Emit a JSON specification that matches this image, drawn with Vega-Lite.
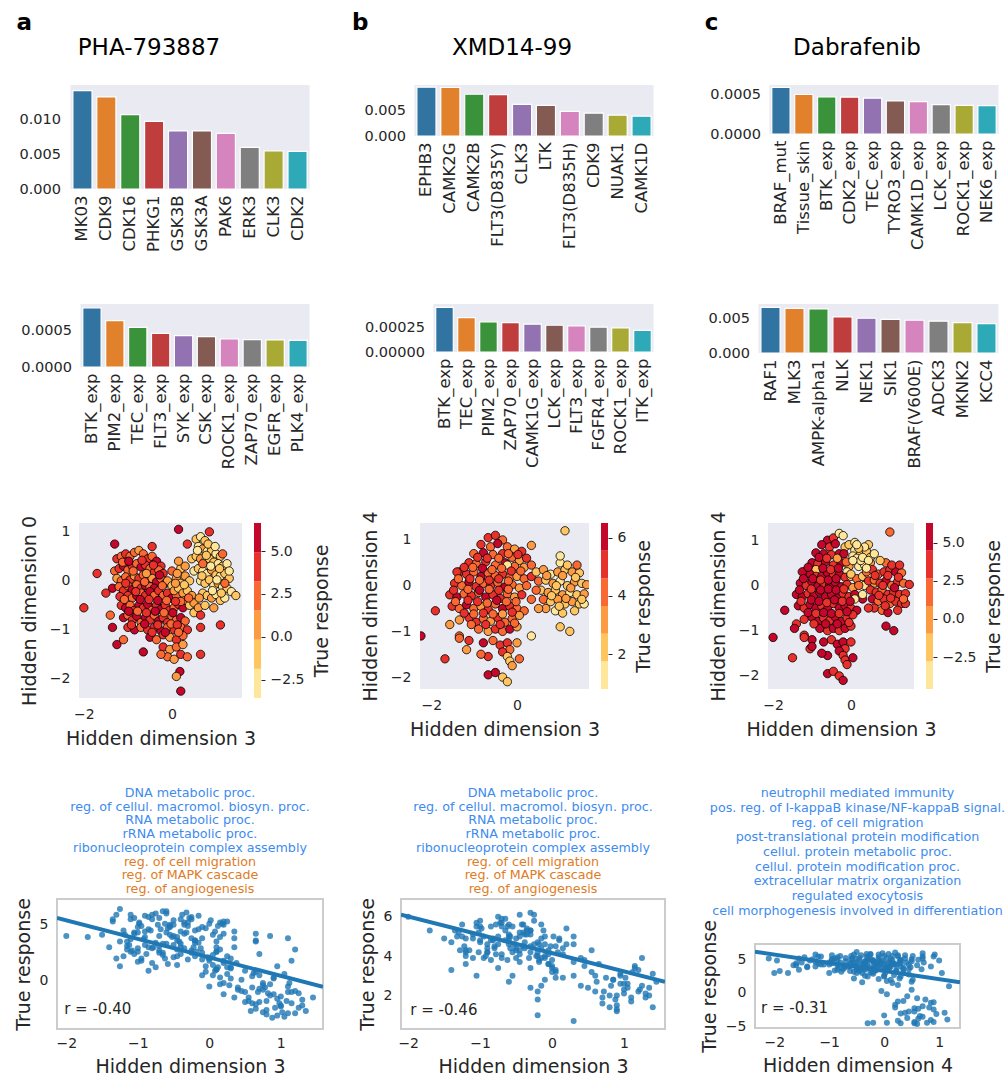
{
"$schema":"https://vega.github.io/schema/vega-lite/v6.json",
"padding":{"left":12,"top":12,"right":2,"bottom":0},
"config":{"font":"DejaVu Sans","view":{"stroke":null},
"axis":{"labelFont":"DejaVu Sans","titleFont":"DejaVu Sans","labelColor":"#262626","titleColor":"#262626","titleFontWeight":"normal","grid":false,"ticks":false,"domain":false,"labelPadding":9,"labelFontSize":14,"titleFontSize":19},
"title":{"font":"DejaVu Sans","color":"black","fontWeight":"normal"}},
"datasets":{
"sp":[{"s":0}],
"b1a":[{"k":"MK03","v":0.01419},{"k":"CDK9","v":0.01328},{"k":"CDK16","v":0.01073},{"k":"PHKG1","v":0.00976},{"k":"GSK3B","v":0.00837},{"k":"GSK3A","v":0.00837},{"k":"PAK6","v":0.00803},{"k":"ERK3","v":0.00601},{"k":"CLK3","v":0.00548},{"k":"CDK2","v":0.00543}],
"b1b":[{"k":"EPHB3","v":0.00967},{"k":"CAMK2G","v":0.0096},{"k":"CAMK2B","v":0.00827},{"k":"FLT3(D835Y)","v":0.0082},{"k":"CLK3","v":0.00627},{"k":"LTK","v":0.00607},{"k":"FLT3(D835H)","v":0.00487},{"k":"CDK9","v":0.00453},{"k":"NUAK1","v":0.00413},{"k":"CAMK1D","v":0.00393}],
"b1c":[{"k":"BRAF_mut","v":0.000595},{"k":"Tissue_skin","v":0.000504},{"k":"BTK_exp","v":0.000474},{"k":"CDK2_exp","v":0.00047},{"k":"TEC_exp","v":0.000457},{"k":"TYRO3_exp","v":0.000422},{"k":"CAMK1D_exp","v":0.000414},{"k":"LCK_exp","v":0.000375},{"k":"ROCK1_exp","v":0.000366},{"k":"NEK6_exp","v":0.000362}],
"b2a":[{"k":"BTK_exp","v":0.000812},{"k":"PIM2_exp","v":0.000638},{"k":"TEC_exp","v":0.000546},{"k":"FLT3_exp","v":0.000463},{"k":"SYK_exp","v":0.000431},{"k":"CSK_exp","v":0.000417},{"k":"ROCK1_exp","v":0.000385},{"k":"ZAP70_exp","v":0.000376},{"k":"EGFR_exp","v":0.000372},{"k":"PLK4_exp","v":0.000367}],
"b2b":[{"k":"BTK_exp","v":0.000462},{"k":"TEC_exp","v":0.000356},{"k":"PIM2_exp","v":0.000312},{"k":"ZAP70_exp","v":0.000305},{"k":"CAMK1G_exp","v":0.000288},{"k":"LCK_exp","v":0.000277},{"k":"FLT3_exp","v":0.000271},{"k":"FGFR4_exp","v":0.000257},{"k":"ROCK1_exp","v":0.00025},{"k":"ITK_exp","v":0.000223}],
"b2c":[{"k":"RAF1","v":0.00663},{"k":"MLK3","v":0.00649},{"k":"AMPK-alpha1","v":0.0064},{"k":"NLK","v":0.00524},{"k":"NEK1","v":0.00505},{"k":"SIK1","v":0.0049},{"k":"BRAF(V600E)","v":0.00476},{"k":"ADCK3","v":0.00462},{"k":"MKNK2","v":0.00442},{"k":"KCC4","v":0.00428}],
"cbA":[{"b":0,"lo":-3.55,"hi":-1.853},{"b":1,"lo":-1.853,"hi":-0.157},{"b":2,"lo":-0.157,"hi":1.54},{"b":3,"lo":1.54,"hi":3.237},{"b":4,"lo":3.237,"hi":4.933},{"b":5,"lo":4.933,"hi":6.63}],
"cbB":[{"b":0,"lo":0.8,"hi":1.75},{"b":1,"lo":1.75,"hi":2.7},{"b":2,"lo":2.7,"hi":3.65},{"b":3,"lo":3.65,"hi":4.6},{"b":4,"lo":4.6,"hi":5.55},{"b":5,"lo":5.55,"hi":6.5}],
"cbC":[{"b":0,"lo":-4.6,"hi":-2.783},{"b":1,"lo":-2.783,"hi":-0.967},{"b":2,"lo":-0.967,"hi":0.85},{"b":3,"lo":0.85,"hi":2.667},{"b":4,"lo":2.667,"hi":4.483},{"b":5,"lo":4.483,"hi":6.3}],
"A":[{"x":-1.25,"y":0.45,"r":3.5},{"x":-1.15,"y":0.5,"r":2.8},{"x":-1.05,"y":0.55,"r":4.2},{"x":-0.95,"y":0.5,"r":1.8},{"x":-0.85,"y":0.58,"r":3.0},{"x":-0.75,"y":0.62,"r":1.2},{"x":-0.65,"y":0.55,"r":2.5},{"x":-0.55,"y":0.45,"r":4.8},{"x":-0.45,"y":0.5,"r":2.2},{"x":-0.35,"y":0.4,"r":5.2},{"x":-0.25,"y":0.3,"r":3.8},
{"x":-1.3,"y":0.2,"r":2.0},{"x":-1.2,"y":0.25,"r":4.5},{"x":-1.1,"y":0.3,"r":5.5},{"x":-1.0,"y":0.22,"r":2.6},{"x":-0.9,"y":0.3,"r":3.9},{"x":-0.8,"y":0.35,"r":1.6},{"x":-0.7,"y":0.28,"r":5.6},{"x":-0.6,"y":0.32,"r":3.3},{"x":-0.5,"y":0.25,"r":2.1},{"x":-0.4,"y":0.18,"r":4.4},{"x":-0.3,"y":0.22,"r":1.9},{"x":-0.2,"y":0.15,"r":3.6},
{"x":-1.25,"y":0.05,"r":1.3},{"x":-1.15,"y":0.0,"r":3.1},{"x":-1.05,"y":0.08,"r":2.4},{"x":-0.95,"y":0.02,"r":4.9},{"x":-0.85,"y":0.1,"r":0.9},{"x":-0.75,"y":0.05,"r":3.4},{"x":-0.65,"y":0.12,"r":2.3},{"x":-0.55,"y":0.0,"r":4.1},{"x":-0.45,"y":0.05,"r":1.4},{"x":-0.35,"y":-0.02,"r":5.0},{"x":-0.25,"y":0.05,"r":2.7},{"x":-0.15,"y":-0.05,"r":4.6},
{"x":-1.35,"y":-0.15,"r":5.3},{"x":-1.2,"y":-0.12,"r":2.2},{"x":-1.1,"y":-0.2,"r":3.7},{"x":-1.0,"y":-0.1,"r":1.7},{"x":-0.9,"y":-0.18,"r":5.8},{"x":-0.8,"y":-0.08,"r":2.9},{"x":-0.7,"y":-0.15,"r":4.0},{"x":-0.6,"y":-0.1,"r":6.0},{"x":-0.5,"y":-0.12,"r":3.2},{"x":-0.4,"y":-0.15,"r":5.5},
{"x":-1.0,"y":-0.3,"r":4.8},{"x":-0.9,"y":-0.35,"r":3.2},{"x":-0.8,"y":-0.3,"r":5.9},{"x":-0.7,"y":-0.25,"r":2.5},{"x":-0.6,"y":-0.3,"r":4.3},{"x":-0.5,"y":-0.22,"r":5.4},{"x":-0.4,"y":-0.3,"r":3.0},{"x":-0.3,"y":-0.2,"r":4.9},{"x":-0.2,"y":-0.3,"r":2.2},{"x":-0.1,"y":-0.25,"r":3.8},{"x":0.0,"y":-0.35,"r":5.1},{"x":0.1,"y":-0.3,"r":2.6},
{"x":-1.15,"y":-0.5,"r":3.5},{"x":-1.05,"y":-0.55,"r":5.6},{"x":-0.95,"y":-0.5,"r":2.0},{"x":-0.85,"y":-0.6,"r":4.6},{"x":-0.75,"y":-0.5,"r":6.0},{"x":-0.65,"y":-0.55,"r":3.3},{"x":-0.55,"y":-0.48,"r":5.0},{"x":-0.45,"y":-0.6,"r":2.8},{"x":-0.35,"y":-0.5,"r":4.2},{"x":-0.25,"y":-0.58,"r":5.7},{"x":-0.15,"y":-0.5,"r":3.4},{"x":-0.05,"y":-0.6,"r":4.7},{"x":0.05,"y":-0.55,"r":2.3},{"x":0.15,"y":-0.48,"r":3.9},{"x":0.25,"y":-0.55,"r":5.3},
{"x":-1.1,"y":-0.75,"r":5.9},{"x":-1.0,"y":-0.7,"r":2.9},{"x":-0.9,"y":-0.8,"r":4.4},{"x":-0.8,"y":-0.72,"r":5.5},{"x":-0.7,"y":-0.85,"r":3.1},{"x":-0.6,"y":-0.75,"r":6.2},{"x":-0.5,"y":-0.8,"r":4.0},{"x":-0.4,"y":-0.7,"r":2.4},{"x":-0.3,"y":-0.82,"r":5.2},{"x":-0.2,"y":-0.75,"r":3.6},{"x":-0.1,"y":-0.85,"r":4.8},{"x":0.0,"y":-0.72,"r":1.8},{"x":0.1,"y":-0.8,"r":3.0},{"x":0.2,"y":-0.75,"r":5.0},{"x":0.3,"y":-0.82,"r":2.0},
{"x":-1.0,"y":-0.95,"r":4.3},{"x":-0.85,"y":-1.0,"r":5.7},{"x":-0.7,"y":-0.95,"r":2.7},{"x":-0.55,"y":-1.0,"r":4.9},{"x":-0.4,"y":-0.95,"r":3.3},{"x":-0.25,"y":-1.02,"r":5.5},{"x":-0.1,"y":-0.95,"r":2.5},{"x":0.05,"y":-1.0,"r":4.1},{"x":0.2,"y":-0.95,"r":1.6},{"x":0.35,"y":-1.0,"r":3.8},
{"x":-0.5,"y":-1.15,"r":5.0},{"x":-0.35,"y":-1.2,"r":2.9},{"x":-0.2,"y":-1.1,"r":4.5},{"x":-0.05,"y":-1.15,"r":1.3},{"x":0.1,"y":-1.2,"r":3.5},{"x":0.25,"y":-1.12,"r":2.2},
{"x":-0.2,"y":-1.35,"r":3.4},{"x":-0.05,"y":-1.4,"r":0.8},{"x":0.1,"y":-1.35,"r":2.6},{"x":0.25,"y":-1.3,"r":1.2},{"x":-0.1,"y":-1.55,"r":1.9},{"x":0.05,"y":-1.6,"r":0.5},{"x":0.2,"y":-1.5,"r":4.2},{"x":0.35,"y":-1.55,"r":3.0},{"x":-0.25,"y":-1.5,"r":2.5},
{"x":-0.1,"y":0.0,"r":0.5},{"x":0.0,"y":-0.1,"r":-0.5},{"x":0.1,"y":0.05,"r":1.0},{"x":0.2,"y":-0.05,"r":-1.2},{"x":0.3,"y":0.1,"r":0.2},{"x":0.4,"y":0.0,"r":-0.8},{"x":0.05,"y":-0.2,"r":1.4},{"x":0.15,"y":-0.15,"r":-0.3},{"x":0.25,"y":-0.25,"r":0.6},{"x":0.35,"y":-0.2,"r":-1.5},{"x":0.45,"y":-0.3,"r":0.1},{"x":0.3,"y":-0.4,"r":1.2},{"x":0.4,"y":-0.5,"r":-0.6},{"x":0.5,"y":-0.45,"r":0.9},{"x":0.2,"y":-0.42,"r":1.8},{"x":0.5,"y":-0.65,"r":-1.0},{"x":0.6,"y":-0.55,"r":0.4},{"x":0.0,"y":0.2,"r":2.0},{"x":0.2,"y":0.25,"r":-0.2},{"x":0.3,"y":0.3,"r":1.1},{"x":0.15,"y":0.4,"r":0.3},{"x":0.5,"y":0.2,"r":-1.9},{"x":0.45,"y":0.45,"r":-0.9},
{"x":0.55,"y":0.85,"r":-1.5},{"x":0.65,"y":0.9,"r":-2.5},{"x":0.75,"y":0.82,"r":-0.8},{"x":0.6,"y":0.7,"r":-2.0},{"x":0.7,"y":0.65,"r":0.5},{"x":0.8,"y":0.6,"r":-3.0},{"x":0.9,"y":0.62,"r":-1.2},{"x":1.0,"y":0.55,"r":-2.2},{"x":1.1,"y":0.5,"r":-0.5},{"x":0.55,"y":0.5,"r":-1.8},{"x":0.65,"y":0.45,"r":0.8},{"x":0.75,"y":0.4,"r":-2.8},{"x":0.85,"y":0.45,"r":-0.3},{"x":0.95,"y":0.38,"r":-1.6},{"x":1.05,"y":0.35,"r":-3.2},{"x":1.15,"y":0.3,"r":-1.0},{"x":1.25,"y":0.35,"r":-2.4},
{"x":0.6,"y":0.25,"r":-0.6},{"x":0.7,"y":0.2,"r":-1.9},{"x":0.8,"y":0.15,"r":-2.6},{"x":0.9,"y":0.22,"r":0.3},{"x":1.0,"y":0.12,"r":-1.4},{"x":1.1,"y":0.1,"r":-2.9},{"x":1.2,"y":0.15,"r":-0.9},{"x":1.3,"y":0.05,"r":-1.7},
{"x":0.65,"y":0.0,"r":-2.1},{"x":0.75,"y":-0.05,"r":-0.4},{"x":0.85,"y":0.02,"r":-1.3},{"x":0.95,"y":-0.1,"r":-3.1},{"x":1.05,"y":-0.05,"r":0.6},{"x":1.15,"y":-0.12,"r":-2.0},{"x":1.25,"y":-0.15,"r":-1.1},{"x":1.35,"y":-0.22,"r":-2.7},{"x":1.45,"y":-0.3,"r":-1.5},
{"x":0.7,"y":-0.25,"r":-0.7},{"x":0.8,"y":-0.3,"r":-1.8},{"x":0.9,"y":-0.35,"r":0.2},{"x":1.0,"y":-0.28,"r":-2.3},{"x":1.1,"y":-0.4,"r":-1.0},{"x":1.2,"y":-0.35,"r":-2.9},{"x":0.95,"y":-0.55,"r":1.3},{"x":0.75,"y":-0.5,"r":-0.2},
{"x":0.7,"y":0.35,"r":2.4},{"x":1.2,"y":-0.05,"r":2.8},{"x":0.65,"y":-0.7,"r":3.6},{"x":1.15,"y":0.55,"r":1.8},
{"x":-2.0,"y":-0.55,"r":4.0},{"x":-1.7,"y":0.15,"r":3.9},{"x":0.15,"y":1.05,"r":5.2},{"x":0.85,"y":1.0,"r":4.0},{"x":1.1,"y":-0.9,"r":3.8},{"x":-1.3,"y":0.75,"r":5.9},{"x":0.2,"y":-2.25,"r":5.3},{"x":0.18,"y":-1.85,"r":5.1},{"x":0.1,"y":-1.95,"r":1.0},{"x":-1.25,"y":-1.3,"r":6.4},{"x":-0.65,"y":-1.45,"r":6.2},{"x":-1.35,"y":-0.95,"r":5.5},{"x":0.65,"y":-0.95,"r":4.2},{"x":0.65,"y":-1.5,"r":3.5},{"x":-1.4,"y":-0.7,"r":3.0},{"x":-1.5,"y":-0.25,"r":4.1},{"x":-0.45,"y":0.7,"r":3.9},{"x":-1.1,"y":-1.2,"r":2.6},{"x":0.35,"y":0.75,"r":4.4},
{"x":-1.12,"y":0.38,"r":3.2},{"x":-0.98,"y":0.4,"r":5.1},{"x":-0.88,"y":0.2,"r":2.4},{"x":-0.68,"y":0.42,"r":4.6},{"x":-0.58,"y":0.15,"r":1.5},{"x":-0.42,"y":0.32,"r":3.5},{"x":-0.28,"y":0.12,"r":5.6},{"x":-1.18,"y":-0.32,"r":4.1},{"x":-1.08,"y":-0.38,"r":2.7},{"x":-0.72,"y":-0.38,"r":5.0},{"x":-0.52,"y":-0.38,"r":3.9},{"x":-0.32,"y":-0.4,"r":6.1},{"x":-0.12,"y":-0.4,"r":2.9},{"x":0.08,"y":-0.42,"r":4.4},{"x":-0.98,"y":-0.62,"r":5.2},{"x":-0.78,"y":-0.62,"r":3.0},{"x":-0.58,"y":-0.65,"r":4.7},{"x":-0.38,"y":-0.62,"r":5.9},{"x":-0.18,"y":-0.65,"r":2.6},{"x":0.02,"y":-0.65,"r":5.4},{"x":-0.92,"y":-0.9,"r":3.7},{"x":-0.62,"y":-0.88,"r":5.1},{"x":-0.32,"y":-0.9,"r":4.3},{"x":-0.02,"y":-0.88,"r":2.1},{"x":0.12,"y":-0.9,"r":4.9},{"x":-0.45,"y":-1.05,"r":3.6},{"x":-0.15,"y":-1.05,"r":5.8},{"x":0.15,"y":-1.05,"r":2.8},{"x":-0.62,"y":-0.02,"r":2.0},{"x":-0.82,"y":-0.22,"r":4.5},{"x":-0.22,"y":-0.1,"r":3.0},{"x":-1.05,"y":-0.05,"r":4.3},
{"x":0.58,"y":0.62,"r":-2.7},{"x":0.82,"y":0.75,"r":-1.1},{"x":0.98,"y":0.7,"r":-2.0},{"x":1.08,"y":0.25,"r":-1.8},{"x":0.88,"y":0.3,"r":-3.3},{"x":0.68,"y":0.1,"r":-1.0},{"x":0.92,"y":-0.2,"r":-2.4},{"x":1.12,"y":-0.25,"r":-0.2},{"x":1.3,"y":0.2,"r":-2.2},{"x":0.62,"y":-0.35,"r":0.7},{"x":1.02,"y":0.02,"r":-2.8},{"x":0.78,"y":0.52,"r":-0.6},
{"x":0.08,"y":-0.05,"r":0.9},{"x":0.28,"y":-0.08,"r":-0.4},{"x":0.38,"y":-0.35,"r":1.6},{"x":0.12,"y":0.15,"r":1.2}],
"B":[{"x":-0.6,"y":1.05,"r":4.8},{"x":-0.45,"y":1.1,"r":5.2},{"x":-0.3,"y":1.0,"r":4.5},{"x":-0.75,"y":0.9,"r":5.0},{"x":-0.55,"y":0.85,"r":4.2},{"x":-0.4,"y":0.92,"r":5.6},{"x":-0.2,"y":0.85,"r":4.0},{"x":-0.05,"y":0.8,"r":3.6},{"x":0.1,"y":0.75,"r":4.9},{"x":-0.9,"y":0.7,"r":4.4},{"x":-0.7,"y":0.72,"r":5.9},{"x":-0.5,"y":0.68,"r":3.9},{"x":-0.3,"y":0.7,"r":5.1},{"x":-0.1,"y":0.62,"r":4.6},{"x":0.05,"y":0.55,"r":3.3},{"x":0.2,"y":0.6,"r":5.4},
{"x":-1.0,"y":0.5,"r":4.7},{"x":-0.85,"y":0.48,"r":3.8},{"x":-0.65,"y":0.52,"r":5.3},{"x":-0.45,"y":0.45,"r":4.1},{"x":-0.25,"y":0.5,"r":5.8},{"x":-0.05,"y":0.42,"r":4.3},{"x":0.15,"y":0.4,"r":2.9},{"x":0.3,"y":0.45,"r":3.7},
{"x":-1.2,"y":0.3,"r":4.9},{"x":-1.05,"y":0.25,"r":5.5},{"x":-0.9,"y":0.3,"r":4.2},{"x":-0.75,"y":0.2,"r":6.0},{"x":-0.6,"y":0.28,"r":4.6},{"x":-0.45,"y":0.22,"r":3.7},{"x":-0.3,"y":0.25,"r":5.3},{"x":-0.15,"y":0.18,"r":4.4},{"x":0.0,"y":0.2,"r":3.5},{"x":0.15,"y":0.15,"r":4.1},{"x":0.3,"y":0.2,"r":5.0},
{"x":-1.3,"y":0.05,"r":5.2},{"x":-1.15,"y":0.0,"r":4.3},{"x":-1.0,"y":0.08,"r":5.8},{"x":-0.85,"y":-0.02,"r":4.8},{"x":-0.7,"y":0.05,"r":3.9},{"x":-0.55,"y":0.0,"r":5.5},{"x":-0.4,"y":0.07,"r":4.5},{"x":-0.25,"y":-0.03,"r":6.1},{"x":-0.1,"y":0.02,"r":4.0},{"x":0.05,"y":-0.05,"r":3.2},{"x":0.2,"y":0.0,"r":4.6},
{"x":-1.4,"y":-0.2,"r":4.7},{"x":-1.25,"y":-0.25,"r":5.6},{"x":-1.1,"y":-0.18,"r":3.9},{"x":-0.95,"y":-0.22,"r":5.0},{"x":-0.8,"y":-0.15,"r":4.4},{"x":-0.65,"y":-0.25,"r":5.9},{"x":-0.5,"y":-0.2,"r":4.9},{"x":-0.35,"y":-0.28,"r":5.4},{"x":-0.2,"y":-0.18,"r":4.2},{"x":-0.05,"y":-0.25,"r":3.6},{"x":0.1,"y":-0.2,"r":4.8},
{"x":-1.35,"y":-0.45,"r":5.3},{"x":-1.2,"y":-0.5,"r":4.0},{"x":-1.05,"y":-0.42,"r":5.7},{"x":-0.9,"y":-0.5,"r":4.6},{"x":-0.75,"y":-0.45,"r":3.4},{"x":-0.6,"y":-0.52,"r":5.1},{"x":-0.45,"y":-0.4,"r":4.3},{"x":-0.3,"y":-0.5,"r":6.2},{"x":-0.15,"y":-0.45,"r":4.9},{"x":0.0,"y":-0.5,"r":3.8},{"x":0.15,"y":-0.55,"r":4.4},
{"x":-1.2,"y":-0.75,"r":3.6},{"x":-1.0,"y":-0.7,"r":4.8},{"x":-0.85,"y":-0.8,"r":5.5},{"x":-0.7,"y":-0.72,"r":4.1},{"x":-0.55,"y":-0.78,"r":3.0},{"x":-0.4,"y":-0.7,"r":5.2},{"x":-0.25,"y":-0.8,"r":4.6},{"x":-0.1,"y":-0.72,"r":3.9},{"x":0.05,"y":-0.65,"r":2.9},
{"x":-1.4,"y":-0.85,"r":3.3},{"x":-0.8,"y":-0.95,"r":4.5},{"x":-0.6,"y":-1.0,"r":2.7},{"x":-0.45,"y":-0.95,"r":5.0},{"x":-0.3,"y":-1.0,"r":4.2},{"x":-0.15,"y":-0.95,"r":5.6},{"x":0.0,"y":-0.9,"r":3.4},
{"x":-0.7,"y":-1.25,"r":5.7},{"x":-0.5,"y":-1.2,"r":4.4},{"x":-0.35,"y":-1.3,"r":5.1},{"x":-0.2,"y":-1.25,"r":4.7},{"x":-0.15,"y":-1.4,"r":3.9},{"x":-0.3,"y":-1.45,"r":5.3},{"x":-0.6,"y":-1.55,"r":5.0},{"x":-0.75,"y":-1.5,"r":4.6},{"x":-0.2,"y":-1.55,"r":2.2},{"x":-0.15,"y":-1.65,"r":2.5},{"x":-0.1,"y":-1.75,"r":2.8},{"x":0.05,"y":-1.6,"r":4.5},{"x":-0.6,"y":-1.95,"r":5.6},{"x":-0.45,"y":-1.9,"r":6.1},{"x":-0.3,"y":-2.0,"r":2.4},{"x":-0.2,"y":-2.1,"r":1.8},{"x":-1.05,"y":-1.4,"r":3.0},{"x":-1.0,"y":-1.2,"r":5.5},{"x":-1.2,"y":-1.1,"r":4.3},
{"x":0.4,"y":0.3,"r":2.5},{"x":0.55,"y":0.35,"r":3.2},{"x":0.7,"y":0.25,"r":1.6},{"x":0.85,"y":0.3,"r":2.8},{"x":1.0,"y":0.35,"r":2.1},{"x":1.15,"y":0.3,"r":3.5},{"x":1.3,"y":0.28,"r":1.9},{"x":0.45,"y":0.1,"r":3.8},{"x":0.6,"y":0.12,"r":2.2},{"x":0.75,"y":0.05,"r":2.9},{"x":0.9,"y":0.1,"r":1.5},{"x":1.05,"y":0.0,"r":2.6},{"x":1.2,"y":0.08,"r":3.3},{"x":1.35,"y":0.05,"r":2.0},{"x":1.45,"y":0.02,"r":2.7},
{"x":0.5,"y":-0.1,"r":2.4},{"x":0.65,"y":-0.15,"r":3.6},{"x":0.8,"y":-0.1,"r":2.0},{"x":0.95,"y":-0.2,"r":3.0},{"x":1.1,"y":-0.15,"r":1.7},{"x":1.25,"y":-0.2,"r":2.5},{"x":1.4,"y":-0.18,"r":3.1},{"x":0.55,"y":-0.3,"r":4.3},{"x":0.7,"y":-0.35,"r":1.9},{"x":0.85,"y":-0.3,"r":2.8},{"x":1.0,"y":-0.4,"r":2.3},{"x":1.15,"y":-0.35,"r":3.4},{"x":1.3,"y":-0.4,"r":2.1},{"x":0.6,"y":-0.5,"r":3.0},{"x":0.8,"y":-0.55,"r":1.4},{"x":0.95,"y":-0.6,"r":2.6},{"x":1.2,"y":-0.55,"r":2.2},{"x":0.3,"y":-0.3,"r":4.6},{"x":0.45,"y":-0.5,"r":3.5},{"x":0.9,"y":0.5,"r":1.2},{"x":1.05,"y":0.45,"r":2.4},{"x":1.25,"y":0.45,"r":3.9},
{"x":-2.0,"y":-1.1,"r":6.0},{"x":-1.7,"y":-0.55,"r":5.3},{"x":-1.5,"y":-1.6,"r":4.9},{"x":1.0,"y":1.2,"r":2.6},{"x":0.9,"y":0.65,"r":1.3},{"x":-1.25,"y":0.3,"r":5.0},{"x":0.3,"y":0.88,"r":3.0},{"x":0.9,"y":-0.9,"r":2.0},{"x":1.1,"y":-1.0,"r":1.9},{"x":-0.2,"y":0.45,"r":1.0},{"x":0.3,"y":-1.1,"r":0.7},{"x":-1.2,"y":-1.15,"r":4.2},{"x":1.4,"y":-0.4,"r":1.4},{"x":0.0,"y":-1.25,"r":3.2},
{"x":-0.82,"y":0.62,"r":4.9},{"x":-0.62,"y":0.6,"r":5.5},{"x":-0.38,"y":0.6,"r":4.4},{"x":-0.18,"y":0.7,"r":3.7},{"x":0.02,"y":0.68,"r":5.0},{"x":-1.1,"y":0.4,"r":5.1},{"x":-0.92,"y":0.4,"r":4.0},{"x":-0.72,"y":0.38,"r":5.7},{"x":-0.52,"y":0.35,"r":4.6},{"x":-0.32,"y":0.38,"r":3.9},{"x":-0.12,"y":0.32,"r":5.3},{"x":0.08,"y":0.32,"r":4.2},{"x":-1.22,"y":0.15,"r":4.5},{"x":-0.98,"y":0.15,"r":5.4},{"x":-0.78,"y":0.12,"r":4.1},{"x":-0.58,"y":0.12,"r":5.0},{"x":-0.38,"y":0.15,"r":4.7},{"x":-0.18,"y":0.1,"r":3.8},{"x":-1.32,"y":-0.1,"r":5.0},{"x":-1.02,"y":-0.08,"r":4.2},{"x":-0.78,"y":-0.1,"r":5.6},{"x":-0.58,"y":-0.08,"r":4.4},{"x":-0.38,"y":-0.1,"r":5.1},{"x":-0.18,"y":-0.08,"r":4.6},{"x":-1.28,"y":-0.35,"r":4.3},{"x":-1.02,"y":-0.32,"r":5.2},{"x":-0.82,"y":-0.35,"r":4.8},{"x":-0.62,"y":-0.38,"r":3.8},{"x":-0.42,"y":-0.32,"r":5.6},{"x":-0.22,"y":-0.35,"r":4.0},{"x":-0.02,"y":-0.35,"r":4.5},{"x":-1.1,"y":-0.6,"r":4.9},{"x":-0.9,"y":-0.62,"r":4.2},{"x":-0.7,"y":-0.6,"r":5.5},{"x":-0.5,"y":-0.62,"r":4.3},{"x":-0.3,"y":-0.62,"r":3.4},{"x":-0.1,"y":-0.58,"r":5.0},{"x":-0.95,"y":-0.85,"r":3.9},{"x":-0.65,"y":-0.85,"r":4.8},{"x":-0.35,"y":-0.85,"r":5.3},{"x":-0.05,"y":-0.82,"r":4.1},
{"x":0.62,"y":0.22,"r":2.7},{"x":0.95,"y":0.22,"r":3.1},{"x":1.22,"y":0.18,"r":2.3},{"x":0.82,"y":0.0,"r":2.5},{"x":1.12,"y":-0.05,"r":3.2},{"x":0.72,"y":-0.22,"r":2.2},{"x":1.02,"y":-0.28,"r":2.9},{"x":1.35,"y":-0.3,"r":2.4},{"x":0.88,"y":-0.45,"r":1.8},{"x":0.4,"y":-0.1,"r":3.9}],
"C":[{"x":-0.6,"y":1.0,"r":4.9},{"x":-0.45,"y":1.05,"r":3.0},{"x":-0.3,"y":1.15,"r":-4.0},{"x":-0.2,"y":1.1,"r":-3.0},{"x":-0.75,"y":0.9,"r":5.5},{"x":-0.55,"y":0.85,"r":4.0},{"x":-0.4,"y":0.92,"r":5.8},{"x":-0.15,"y":0.85,"r":-1.5},{"x":-0.05,"y":0.9,"r":-2.5},{"x":0.1,"y":0.78,"r":-4.5},{"x":-0.9,"y":0.72,"r":4.6},{"x":-0.7,"y":0.7,"r":6.0},{"x":-0.5,"y":0.68,"r":3.6},{"x":-0.3,"y":0.7,"r":5.2},{"x":0.05,"y":0.65,"r":-3.5},{"x":0.25,"y":0.7,"r":-2.0},{"x":0.4,"y":0.75,"r":-1.0},{"x":0.15,"y":0.6,"r":-4.7},
{"x":-1.0,"y":0.5,"r":5.1},{"x":-0.85,"y":0.48,"r":3.9},{"x":-0.65,"y":0.52,"r":5.6},{"x":-0.45,"y":0.45,"r":4.3},{"x":-0.25,"y":0.5,"r":4.8},{"x":-0.05,"y":0.42,"r":-0.5},{"x":0.2,"y":0.42,"r":-3.8},{"x":0.35,"y":0.45,"r":-2.8},{"x":0.5,"y":0.5,"r":0.5},{"x":-0.9,"y":0.35,"r":-1.2},
{"x":0.1,"y":0.95,"r":-3.2},{"x":0.25,"y":0.55,"r":-4.4},{"x":0.5,"y":0.62,"r":-2.4},{"x":0.55,"y":0.3,"r":-3.1},{"x":-0.1,"y":0.3,"r":-4.6},{"x":0.2,"y":0.05,"r":-4.5},{"x":0.35,"y":0.0,"r":-3.4},{"x":0.45,"y":0.9,"r":-1.4},{"x":-0.35,"y":0.6,"r":-0.8},{"x":0.6,"y":0.05,"r":-0.2},
{"x":-1.2,"y":0.3,"r":4.9},{"x":-1.05,"y":0.25,"r":5.7},{"x":-0.9,"y":0.2,"r":4.3},{"x":-0.75,"y":0.2,"r":6.1},{"x":-0.6,"y":0.28,"r":4.7},{"x":-0.45,"y":0.22,"r":3.4},{"x":-0.3,"y":0.25,"r":5.5},{"x":-0.15,"y":0.18,"r":4.4},{"x":0.0,"y":0.2,"r":-2.2},{"x":0.15,"y":0.15,"r":1.5},{"x":0.3,"y":0.2,"r":-1.8},{"x":0.45,"y":0.25,"r":-4.2},
{"x":-1.3,"y":0.05,"r":5.3},{"x":-1.15,"y":0.0,"r":4.4},{"x":-1.0,"y":0.08,"r":5.9},{"x":-0.85,"y":-0.02,"r":4.8},{"x":-0.7,"y":0.05,"r":3.7},{"x":-0.55,"y":0.0,"r":5.6},{"x":-0.4,"y":0.07,"r":4.5},{"x":-0.25,"y":-0.03,"r":6.0},{"x":-0.1,"y":0.02,"r":3.9},{"x":0.05,"y":-0.05,"r":0.3},{"x":0.2,"y":0.0,"r":2.5},
{"x":-1.4,"y":-0.2,"r":4.7},{"x":-1.25,"y":-0.25,"r":5.8},{"x":-1.1,"y":-0.18,"r":3.8},{"x":-0.95,"y":-0.22,"r":5.0},{"x":-0.8,"y":-0.15,"r":4.6},{"x":-0.65,"y":-0.25,"r":5.9},{"x":-0.5,"y":-0.2,"r":4.9},{"x":-0.35,"y":-0.28,"r":5.3},{"x":-0.2,"y":-0.18,"r":4.2},{"x":-0.05,"y":-0.25,"r":3.1},{"x":0.1,"y":-0.2,"r":4.8},
{"x":-1.35,"y":-0.45,"r":5.3},{"x":-1.2,"y":-0.5,"r":4.1},{"x":-1.05,"y":-0.42,"r":5.7},{"x":-0.9,"y":-0.5,"r":4.6},{"x":-0.75,"y":-0.45,"r":3.3},{"x":-0.6,"y":-0.52,"r":5.2},{"x":-0.45,"y":-0.4,"r":4.4},{"x":-0.3,"y":-0.5,"r":6.2},{"x":-0.15,"y":-0.45,"r":4.9},{"x":0.0,"y":-0.5,"r":3.6},{"x":0.15,"y":-0.55,"r":4.5},
{"x":-1.2,"y":-0.75,"r":3.6},{"x":-1.0,"y":-0.7,"r":4.8},{"x":-0.85,"y":-0.8,"r":5.6},{"x":-0.7,"y":-0.72,"r":4.1},{"x":-0.55,"y":-0.78,"r":3.2},{"x":-0.4,"y":-0.7,"r":5.3},{"x":-0.25,"y":-0.8,"r":4.6},{"x":-0.1,"y":-0.72,"r":3.8},{"x":0.05,"y":-0.65,"r":4.0},
{"x":-1.4,"y":-0.85,"r":3.5},{"x":-0.8,"y":-0.95,"r":4.5},{"x":-0.6,"y":-1.0,"r":3.0},{"x":-0.45,"y":-0.95,"r":5.0},{"x":-0.3,"y":-1.0,"r":4.3},{"x":-0.15,"y":-0.95,"r":5.7},{"x":0.0,"y":-0.9,"r":3.4},
{"x":-0.7,"y":-1.25,"r":5.8},{"x":-0.5,"y":-1.2,"r":4.4},{"x":-0.35,"y":-1.3,"r":5.1},{"x":-0.2,"y":-1.25,"r":4.7},{"x":-0.15,"y":-1.4,"r":3.9},{"x":-0.3,"y":-1.45,"r":5.4},{"x":-0.6,"y":-1.55,"r":5.2},{"x":-0.75,"y":-1.5,"r":4.6},{"x":-0.2,"y":-1.55,"r":3.5},{"x":-0.15,"y":-1.65,"r":4.2},{"x":-0.1,"y":-1.75,"r":3.0},{"x":0.05,"y":-1.6,"r":4.5},{"x":-0.6,"y":-1.95,"r":4.9},{"x":-0.45,"y":-1.9,"r":3.3},{"x":-0.3,"y":-2.0,"r":3.0},{"x":-0.2,"y":-2.1,"r":5.2},{"x":-1.05,"y":-1.4,"r":4.0},{"x":-1.0,"y":-1.2,"r":5.5},{"x":-1.2,"y":-1.1,"r":4.3},
{"x":0.4,"y":0.3,"r":2.5},{"x":0.55,"y":0.35,"r":3.6},{"x":0.7,"y":0.25,"r":1.2},{"x":0.85,"y":0.3,"r":4.0},{"x":1.0,"y":0.35,"r":3.1},{"x":1.15,"y":0.3,"r":4.5},{"x":1.3,"y":0.28,"r":2.2},{"x":0.45,"y":0.1,"r":3.8},{"x":0.6,"y":0.12,"r":2.0},{"x":0.75,"y":0.05,"r":3.5},{"x":0.9,"y":0.1,"r":4.6},{"x":1.05,"y":0.0,"r":2.6},{"x":1.2,"y":0.08,"r":3.9},{"x":1.35,"y":0.05,"r":1.8},{"x":1.5,"y":0.02,"r":3.0},
{"x":0.5,"y":-0.1,"r":4.2},{"x":0.65,"y":-0.15,"r":3.4},{"x":0.8,"y":-0.1,"r":2.1},{"x":0.95,"y":-0.2,"r":3.7},{"x":1.1,"y":-0.15,"r":4.4},{"x":1.25,"y":-0.2,"r":2.9},{"x":1.4,"y":-0.18,"r":3.3},{"x":0.55,"y":-0.3,"r":4.7},{"x":0.7,"y":-0.35,"r":2.6},{"x":0.85,"y":-0.3,"r":3.8},{"x":1.0,"y":-0.4,"r":1.6},{"x":1.15,"y":-0.35,"r":3.5},{"x":1.3,"y":-0.4,"r":4.1},{"x":0.6,"y":-0.5,"r":3.0},{"x":0.8,"y":-0.55,"r":2.2},{"x":0.95,"y":-0.6,"r":4.5},{"x":1.2,"y":-0.55,"r":3.2},{"x":0.3,"y":-0.3,"r":5.0},{"x":0.45,"y":-0.5,"r":3.9},{"x":0.9,"y":0.5,"r":1.7},{"x":1.05,"y":0.45,"r":2.8},{"x":1.25,"y":0.45,"r":3.6},
{"x":-2.0,"y":-1.15,"r":5.5},{"x":-1.7,"y":-0.55,"r":5.8},{"x":-1.5,"y":-1.6,"r":4.2},{"x":1.0,"y":1.18,"r":1.0},{"x":-1.25,"y":0.3,"r":5.0},{"x":0.9,"y":-0.9,"r":5.2},{"x":1.1,"y":-1.0,"r":4.6},{"x":-1.2,"y":-1.15,"r":4.3},{"x":1.4,"y":-0.4,"r":3.0},{"x":0.0,"y":-1.25,"r":4.0},{"x":-1.45,"y":-0.95,"r":5.1},{"x":-1.0,"y":-1.35,"r":4.9},{"x":0.1,"y":-0.3,"r":-4.6},{"x":0.3,"y":-0.2,"r":-4.5},{"x":0.6,"y":0.7,"r":-3.6},{"x":0.75,"y":0.55,"r":-2.3},{"x":0.35,"y":0.85,"r":-4.1},
{"x":-0.82,"y":0.62,"r":5.0},{"x":-0.62,"y":0.6,"r":4.2},{"x":-0.18,"y":0.7,"r":5.5},{"x":-1.1,"y":0.4,"r":4.6},{"x":-0.72,"y":0.38,"r":5.7},{"x":-0.52,"y":0.35,"r":3.8},{"x":-0.32,"y":0.38,"r":5.2},{"x":-0.12,"y":0.52,"r":2.0},{"x":-1.22,"y":0.15,"r":4.9},{"x":-0.98,"y":0.15,"r":5.6},{"x":-0.78,"y":0.12,"r":4.0},{"x":-0.58,"y":0.12,"r":5.1},{"x":-0.38,"y":0.15,"r":4.5},{"x":-1.32,"y":-0.1,"r":5.4},{"x":-1.02,"y":-0.08,"r":4.3},{"x":-0.78,"y":-0.1,"r":5.8},{"x":-0.58,"y":-0.08,"r":4.6},{"x":-0.38,"y":-0.1,"r":5.0},{"x":-0.18,"y":-0.08,"r":3.7},{"x":-1.28,"y":-0.35,"r":4.4},{"x":-1.02,"y":-0.32,"r":5.5},{"x":-0.82,"y":-0.35,"r":4.8},{"x":-0.62,"y":-0.38,"r":3.6},{"x":-0.42,"y":-0.32,"r":5.9},{"x":-0.22,"y":-0.35,"r":4.1},{"x":-0.02,"y":-0.35,"r":4.7},{"x":-1.1,"y":-0.6,"r":5.1},{"x":-0.9,"y":-0.62,"r":4.0},{"x":-0.7,"y":-0.6,"r":5.6},{"x":-0.5,"y":-0.62,"r":4.5},{"x":-0.3,"y":-0.62,"r":3.3},{"x":-0.1,"y":-0.58,"r":5.2},{"x":-0.95,"y":-0.85,"r":4.2},{"x":-0.65,"y":-0.85,"r":5.0},{"x":-0.35,"y":-0.85,"r":5.4},{"x":-0.05,"y":-0.82,"r":3.9},
{"x":0.62,"y":0.22,"r":3.3},{"x":0.95,"y":0.22,"r":4.2},{"x":1.22,"y":0.18,"r":2.7},{"x":0.82,"y":0.0,"r":3.9},{"x":1.12,"y":-0.05,"r":4.8},{"x":0.72,"y":-0.22,"r":3.1},{"x":1.02,"y":-0.28,"r":4.0},{"x":1.35,"y":-0.3,"r":2.5},{"x":0.88,"y":-0.45,"r":3.6},
{"x":0.05,"y":0.55,"r":-2.8},{"x":0.3,"y":0.62,"r":-3.9},{"x":0.45,"y":0.55,"r":-4.6},{"x":0.2,"y":0.82,"r":-2.2},{"x":0.0,"y":0.25,"r":-1.3},{"x":0.4,"y":0.38,"r":-3.0},{"x":0.15,"y":0.9,"r":-4.4}],
"tA":[{"i":0,"t":"DNA metabolic proc.","g":"pos"},{"i":1,"t":"reg. of cellul. macromol. biosyn. proc.","g":"pos"},{"i":2,"t":"RNA metabolic proc.","g":"pos"},{"i":3,"t":"rRNA metabolic proc.","g":"pos"},{"i":4,"t":"ribonucleoprotein complex assembly","g":"pos"},{"i":5,"t":"reg. of cell migration","g":"neg"},{"i":6,"t":"reg. of MAPK cascade","g":"neg"},{"i":7,"t":"reg. of angiogenesis","g":"neg"}],
"tC":[{"i":0,"t":"neutrophil mediated immunity","g":"pos"},{"i":1,"t":"pos. reg. of I-kappaB kinase/NF-kappaB signal.","g":"pos"},{"i":2,"t":"reg. of cell migration","g":"pos"},{"i":3,"t":"post-translational protein modification","g":"pos"},{"i":4,"t":"cellul. protein metabolic proc.","g":"pos"},{"i":5,"t":"cellul. protein modification proc.","g":"pos"},{"i":6,"t":"extracellular matrix organization","g":"pos"},{"i":7,"t":"regulated exocytosis","g":"pos"},{"i":8,"t":"cell morphogenesis involved in differentiation","g":"pos"}]
},
"resolve":{"scale":{"color":"independent"},"legend":{"color":"independent"}},
"spacing":52,
"vconcat":[
{"resolve":{"scale":{"color":"independent"},"legend":{"color":"independent"}},"spacing":2.5,"hconcat":[
 {"width":1,"height":1,"data":{"name":"sp"},"mark":{"type":"point","opacity":0,"size":0,"strokeWidth":0},"encoding":{}},
 {"resolve":{"scale":{"color":"independent"},"legend":{"color":"independent"}},"spacing":42,"hconcat":[
 {"title":{"text":"a","anchor":"start","fontSize":23,"fontWeight":"bold","dx":-2.5,"offset":2},"resolve":{"scale":{"color":"independent"}},"vconcat":[
  {"title":{"text":"PHA-793887","fontSize":23,"frame":"group","anchor":"middle","dx":-41,"offset":25},"width":239,"height":104,"data":{"name":"b1a"},"view":{"fill":"#eaeaf2","stroke":null},
   "mark":{"type":"bar","stroke":"white","strokeWidth":1.2},
   "encoding":{"x":{"field":"k","type":"nominal","sort":null,"scale":{"paddingInner":0.2,"paddingOuter":0.1},"axis":{"title":null,"labelAngle":-90,"labelFontSize":16.5,"labelPadding":6}},
    "y":{"field":"v","type":"quantitative","scale":{"domain":[0,0.015],"nice":false},"axis":{"title":null,"values":[0,0.005,0.01],"format":".3f","labelFontSize":14.5,"labelPadding":10}},
    "color":{"field":"k","type":"nominal","sort":null,"legend":null,"scale":{"domain":["MK03","CDK9","CDK16","PHKG1","GSK3B","GSK3A","PAK6","ERK3","CLK3","CDK2"],"range":["#3274a1","#e1812c","#3a923a","#c03d3e","#9372b2","#845b53","#d684bd","#7f7f7f","#a9aa35","#2ea9b8"]}}}}]},
 {"resolve":{"scale":{"color":"independent"},"legend":{"color":"independent"}},"spacing":51,"hconcat":[
  {"title":{"text":"b","anchor":"start","fontSize":23,"fontWeight":"bold","dx":-12,"offset":2},"resolve":{"scale":{"color":"independent"}},"vconcat":[
   {"title":{"text":"XMD14-99","fontSize":23,"frame":"group","anchor":"middle","dx":-22,"offset":25},"width":239,"height":51,"data":{"name":"b1b"},"view":{"fill":"#eaeaf2","stroke":null},
    "mark":{"type":"bar","stroke":"white","strokeWidth":1.2},
    "encoding":{"x":{"field":"k","type":"nominal","sort":null,"scale":{"paddingInner":0.2,"paddingOuter":0.1},"axis":{"title":null,"labelAngle":-90,"labelFontSize":16.5,"labelPadding":6}},
     "y":{"field":"v","type":"quantitative","scale":{"domain":[0,0.0101],"nice":false},"axis":{"title":null,"values":[0,0.005],"format":".3f","labelFontSize":14.5}},
     "color":{"field":"k","type":"nominal","sort":null,"legend":null,"scale":{"domain":["EPHB3","CAMK2G","CAMK2B","FLT3(D835Y)","CLK3","LTK","FLT3(D835H)","CDK9","NUAK1","CAMK1D"],"range":["#3274a1","#e1812c","#3a923a","#c03d3e","#9372b2","#845b53","#d684bd","#7f7f7f","#a9aa35","#2ea9b8"]}}}}]},
  {"title":{"text":"c","anchor":"start","fontSize":23,"fontWeight":"bold","dx":-5,"offset":2},"resolve":{"scale":{"color":"independent"}},"vconcat":[
   {"title":{"text":"Dabrafenib","fontSize":23,"frame":"group","anchor":"middle","dx":-27,"offset":25},"width":229,"height":49,"data":{"name":"b1c"},"view":{"fill":"#eaeaf2","stroke":null},
    "mark":{"type":"bar","stroke":"white","strokeWidth":1.2},
    "encoding":{"x":{"field":"k","type":"nominal","sort":null,"scale":{"paddingInner":0.2,"paddingOuter":0.1},"axis":{"title":null,"labelAngle":-90,"labelFontSize":16.5,"labelPadding":6}},
     "y":{"field":"v","type":"quantitative","scale":{"domain":[0,0.000625],"nice":false},"axis":{"title":null,"values":[0,0.0005],"format":".4f","labelFontSize":14.5}},
     "color":{"field":"k","type":"nominal","sort":null,"legend":null,"scale":{"domain":["BRAF_mut","Tissue_skin","BTK_exp","CDK2_exp","TEC_exp","TYRO3_exp","CAMK1D_exp","LCK_exp","ROCK1_exp","NEK6_exp"],"range":["#3274a1","#e1812c","#3a923a","#c03d3e","#9372b2","#845b53","#d684bd","#7f7f7f","#a9aa35","#2ea9b8"]}}}}]}
 ]}
 ]}
]},
{"resolve":{"scale":{"color":"independent"},"legend":{"color":"independent"}},"spacing":41,"vconcat":[
{"resolve":{"scale":{"color":"independent"},"legend":{"color":"independent"}},"spacing":7.5,"hconcat":[
 {"width":1,"height":1,"data":{"name":"sp"},"mark":{"type":"point","opacity":0,"size":0,"strokeWidth":0},"encoding":{}},
 {"resolve":{"scale":{"color":"independent"},"legend":{"color":"independent"}},"spacing":55,"hconcat":[
 {"width":229,"height":63,"data":{"name":"b2a"},"view":{"fill":"#eaeaf2","stroke":null},
  "mark":{"type":"bar","stroke":"white","strokeWidth":1.2},
  "encoding":{"x":{"field":"k","type":"nominal","sort":null,"scale":{"paddingInner":0.2,"paddingOuter":0.1},"axis":{"title":null,"labelAngle":-90,"labelFontSize":16.5,"labelPadding":6}},
   "y":{"field":"v","type":"quantitative","scale":{"domain":[0,0.000867],"nice":false},"axis":{"title":null,"values":[0,0.0005],"format":".4f","labelFontSize":14.5}},
   "color":{"field":"k","type":"nominal","sort":null,"legend":null,"scale":{"domain":["BTK_exp","PIM2_exp","TEC_exp","FLT3_exp","SYK_exp","CSK_exp","ROCK1_exp","ZAP70_exp","EGFR_exp","PLK4_exp"],"range":["#3274a1","#e1812c","#3a923a","#c03d3e","#9372b2","#845b53","#d684bd","#7f7f7f","#a9aa35","#2ea9b8"]}}}},
 {"resolve":{"scale":{"color":"independent"},"legend":{"color":"independent"}},"spacing":54,"hconcat":[
  {"width":220,"height":48,"data":{"name":"b2b"},"view":{"fill":"#eaeaf2","stroke":null},
   "mark":{"type":"bar","stroke":"white","strokeWidth":1.2},
   "encoding":{"x":{"field":"k","type":"nominal","sort":null,"scale":{"paddingInner":0.2,"paddingOuter":0.1},"axis":{"title":null,"labelAngle":-90,"labelFontSize":16.5,"labelPadding":6}},
    "y":{"field":"v","type":"quantitative","scale":{"domain":[0,0.000497],"nice":false},"axis":{"title":null,"values":[0,0.00025],"format":".5f","labelFontSize":14.5}},
    "color":{"field":"k","type":"nominal","sort":null,"legend":null,"scale":{"domain":["BTK_exp","TEC_exp","PIM2_exp","ZAP70_exp","CAMK1G_exp","LCK_exp","FLT3_exp","FGFR4_exp","ROCK1_exp","ITK_exp"],"range":["#3274a1","#e1812c","#3a923a","#c03d3e","#9372b2","#845b53","#d684bd","#7f7f7f","#a9aa35","#2ea9b8"]}}}},
  {"width":240,"height":49,"data":{"name":"b2c"},"view":{"fill":"#eaeaf2","stroke":null},
   "mark":{"type":"bar","stroke":"white","strokeWidth":1.2},
   "encoding":{"x":{"field":"k","type":"nominal","sort":null,"scale":{"paddingInner":0.2,"paddingOuter":0.1},"axis":{"title":null,"labelAngle":-90,"labelFontSize":16.5,"labelPadding":6}},
    "y":{"field":"v","type":"quantitative","scale":{"domain":[0,0.00712],"nice":false},"axis":{"title":null,"values":[0,0.005],"format":".3f","labelFontSize":14.5}},
    "color":{"field":"k","type":"nominal","sort":null,"legend":null,"scale":{"domain":["RAF1","MLK3","AMPK-alpha1","NLK","NEK1","SIK1","BRAF(V600E)","ADCK3","MKNK2","KCC4"],"range":["#3274a1","#e1812c","#3a923a","#c03d3e","#9372b2","#845b53","#d684bd","#7f7f7f","#a9aa35","#2ea9b8"]}}}}
 ]}
 ]}
]},
{"resolve":{"scale":{"color":"independent"},"legend":{"color":"independent"}},"spacing":38,"vconcat":[
{"resolve":{"scale":{"color":"independent"},"legend":{"color":"independent"}},"spacing":7,"hconcat":[
 {"width":1,"height":1,"data":{"name":"sp"},"mark":{"type":"point","opacity":0,"size":0,"strokeWidth":0},"encoding":{}},
 {"resolve":{"scale":{"color":"independent"},"legend":{"color":"independent"}},"spacing":29,"hconcat":[
 {"resolve":{"scale":{"color":"independent"}},"spacing":12,"bounds":"flush","hconcat":[
  {"width":163,"height":175,"data":{"name":"A"},"view":{"fill":"#eaeaf2","stroke":null},
   "mark":{"type":"circle","size":70,"opacity":1,"stroke":"black","strokeWidth":0.8,"clip":true},
   "encoding":{"x":{"field":"x","type":"quantitative","scale":{"domain":[-2.11,1.59],"nice":false,"zero":false},"axis":{"title":"Hidden dimension 3","values":[-2,0],"titlePadding":8}},
    "y":{"field":"y","type":"quantitative","scale":{"domain":[-2.39,1.18],"nice":false,"zero":false},"axis":{"title":"Hidden dimension 0","values":[-2,-1,0,1],"titlePadding":10}},
    "color":{"field":"r","type":"quantitative","legend":null,"scale":{"type":"quantize","domain":[-3.55,6.63],"range":["#fee79a","#fec561","#fd9b43","#fb6932","#e8312a","#c4072a"]}}}},
  {"width":7,"height":175,"data":{"name":"cbA"},"mark":{"type":"rect"},
   "encoding":{"y":{"field":"lo","type":"quantitative","scale":{"domain":[-3.55,6.63],"nice":false,"zero":false},"axis":{"orient":"right","title":"True response","values":[-2.5,0,2.5,5],"format":".1f","ticks":true,"tickSize":4,"tickColor":"#262626","labelPadding":5,"titlePadding":9,"titleAngle":270,"titleBaseline":"top"}},"y2":{"field":"hi"},
    "color":{"field":"b","type":"ordinal","legend":null,"scale":{"domain":[0,1,2,3,4,5],"range":["#fee79a","#fec561","#fd9b43","#fb6932","#e8312a","#c4072a"]}}}}
 ]},
 {"resolve":{"scale":{"color":"independent"},"legend":{"color":"independent"}},"spacing":55,"hconcat":[
  {"resolve":{"scale":{"color":"independent"}},"spacing":12,"bounds":"flush","hconcat":[
   {"width":169,"height":166,"data":{"name":"B"},"view":{"fill":"#eaeaf2","stroke":null},
    "mark":{"type":"circle","size":70,"opacity":1,"stroke":"black","strokeWidth":0.8,"clip":true},
    "encoding":{"x":{"field":"x","type":"quantitative","scale":{"domain":[-2.02,1.5],"nice":false,"zero":false},"axis":{"title":"Hidden dimension 3","values":[-2,0],"titlePadding":8}},
     "y":{"field":"y","type":"quantitative","scale":{"domain":[-2.26,1.37],"nice":false,"zero":false},"axis":{"title":"Hidden dimension 4","values":[-2,-1,0,1],"titlePadding":10}},
     "color":{"field":"r","type":"quantitative","legend":null,"scale":{"type":"quantize","domain":[0.8,6.5],"range":["#fee79a","#fec561","#fd9b43","#fb6932","#e8312a","#c4072a"]}}}},
   {"width":7,"height":166,"data":{"name":"cbB"},"mark":{"type":"rect"},
    "encoding":{"y":{"field":"lo","type":"quantitative","scale":{"domain":[0.8,6.5],"nice":false,"zero":false},"axis":{"orient":"right","title":"True response","values":[2,4,6],"format":"d","ticks":true,"tickSize":4,"tickColor":"#262626","labelPadding":5,"titlePadding":9,"titleAngle":270,"titleBaseline":"top"}},"y2":{"field":"hi"},
     "color":{"field":"b","type":"ordinal","legend":null,"scale":{"domain":[0,1,2,3,4,5],"range":["#fee79a","#fec561","#fd9b43","#fb6932","#e8312a","#c4072a"]}}}}
  ]},
  {"resolve":{"scale":{"color":"independent"}},"spacing":12,"bounds":"flush","hconcat":[
   {"width":146,"height":166,"data":{"name":"C"},"view":{"fill":"#eaeaf2","stroke":null},
    "mark":{"type":"circle","size":70,"opacity":1,"stroke":"black","strokeWidth":0.8,"clip":true},
    "encoding":{"x":{"field":"x","type":"quantitative","scale":{"domain":[-2.13,1.62],"nice":false,"zero":false},"axis":{"title":"Hidden dimension 3","values":[-2,0],"titlePadding":8}},
     "y":{"field":"y","type":"quantitative","scale":{"domain":[-2.29,1.38],"nice":false,"zero":false},"axis":{"title":"Hidden dimension 4","values":[-2,-1,0,1],"titlePadding":10}},
     "color":{"field":"r","type":"quantitative","legend":null,"scale":{"type":"quantize","domain":[-4.6,6.3],"range":["#fee79a","#fec561","#fd9b43","#fb6932","#e8312a","#c4072a"]}}}},
   {"width":7,"height":166,"data":{"name":"cbC"},"mark":{"type":"rect"},
    "encoding":{"y":{"field":"lo","type":"quantitative","scale":{"domain":[-4.6,6.3],"nice":false,"zero":false},"axis":{"orient":"right","title":"True response","values":[-2.5,0,2.5,5],"format":".1f","ticks":true,"tickSize":4,"tickColor":"#262626","labelPadding":5,"titlePadding":9,"titleAngle":270,"titleBaseline":"top"}},"y2":{"field":"hi"},
     "color":{"field":"b","type":"ordinal","legend":null,"scale":{"domain":[0,1,2,3,4,5],"range":["#fee79a","#fec561","#fd9b43","#fb6932","#e8312a","#c4072a"]}}}}
  ]}
 ]}
 ]}
]},
{"resolve":{"scale":{"color":"independent"},"legend":{"color":"independent"}},"spacing":0,"hconcat":[
 {"width":1,"height":1,"data":{"name":"sp"},"mark":{"type":"point","opacity":0,"size":0,"strokeWidth":0},"encoding":{}},
 {"resolve":{"scale":{"color":"independent"},"legend":{"color":"independent"}},"spacing":33,"hconcat":[
 {"resolve":{"scale":{"color":"independent"}},"spacing":0,"vconcat":[
  {"width":266,"height":110,"data":{"name":"tA"},"view":{"stroke":null},"mark":{"type":"text","fontSize":12.7,"baseline":"middle"},
   "encoding":{"y":{"field":"i","type":"ordinal","scale":{"type":"point","domain":[0,1,2,3,4,5,6,7],"padding":0.5},"axis":null},"text":{"field":"t"},
    "color":{"field":"g","type":"nominal","legend":null,"scale":{"domain":["pos","neg"],"range":["#3d8bf0","#e07b26"]}}}},
  {"width":266,"height":130,"view":{"stroke":"#cccccc","strokeWidth":2,"fill":"white"},"layer":[
   {"data":{"name":"A"},"mark":{"type":"circle","size":36,"opacity":0.8,"color":"#1f77b4","clip":true},
    "encoding":{"x":{"field":"x","type":"quantitative","scale":{"domain":[-2.13,1.59],"nice":false,"zero":false},"axis":{"title":"Hidden dimension 3","values":[-2,-1,0,1],"format":"d","labelPadding":7,"titlePadding":7}},
     "y":{"field":"r","type":"quantitative","scale":{"domain":[-4.3,7.3],"nice":false,"zero":false},"axis":{"title":"True response","values":[0,5],"titlePadding":6}}}},
   {"data":{"values":[{"x":-2.13,"r":5.6},{"x":1.59,"r":-0.53}]},"mark":{"type":"line","color":"#1f77b4","strokeWidth":4,"clip":true},"encoding":{"x":{"field":"x","type":"quantitative"},"y":{"field":"r","type":"quantitative"}}},
   {"data":{"values":[{"t":"r = -0.40"}]},"mark":{"type":"text","align":"left","baseline":"middle","fontSize":15,"color":"#262626"},"encoding":{"x":{"datum":-2.03},"y":{"datum":-2.5},"text":{"field":"t"}}}
  ]}
 ]},
 {"resolve":{"scale":{"color":"independent"},"legend":{"color":"independent"}},"spacing":33,"hconcat":[
  {"resolve":{"scale":{"color":"independent"}},"spacing":0,"vconcat":[
   {"width":264,"height":110,"data":{"name":"tA"},"view":{"stroke":null},"mark":{"type":"text","fontSize":12.7,"baseline":"middle"},
    "encoding":{"y":{"field":"i","type":"ordinal","scale":{"type":"point","domain":[0,1,2,3,4,5,6,7],"padding":0.5},"axis":null},"text":{"field":"t"},
     "color":{"field":"g","type":"nominal","legend":null,"scale":{"domain":["pos","neg"],"range":["#3d8bf0","#e07b26"]}}}},
   {"width":264,"height":130,"view":{"stroke":"#cccccc","strokeWidth":2,"fill":"white"},"layer":[
    {"data":{"name":"B"},"mark":{"type":"circle","size":36,"opacity":0.8,"color":"#1f77b4","clip":true},
     "encoding":{"x":{"field":"x","type":"quantitative","scale":{"domain":[-2.1,1.57],"nice":false,"zero":false},"axis":{"title":"Hidden dimension 3","values":[-2,-1,0,1],"format":"d","labelPadding":7,"titlePadding":7}},
      "y":{"field":"r","type":"quantitative","scale":{"domain":[0.3,6.9],"nice":false,"zero":false},"axis":{"title":"True response","values":[2,4,6],"titlePadding":6}}}},
    {"data":{"values":[{"x":-2.1,"r":6.1},{"x":1.57,"r":2.7}]},"mark":{"type":"line","color":"#1f77b4","strokeWidth":4,"clip":true},"encoding":{"x":{"field":"x","type":"quantitative"},"y":{"field":"r","type":"quantitative"}}},
    {"data":{"values":[{"t":"r = -0.46"}]},"mark":{"type":"text","align":"left","baseline":"middle","fontSize":15,"color":"#262626"},"encoding":{"x":{"datum":-1.97},"y":{"datum":1.25},"text":{"field":"t"}}}
   ]}
  ]},
  {"resolve":{"scale":{"color":"independent"}},"spacing":0,"vconcat":[
   {"width":205,"height":132,"data":{"name":"tC"},"view":{"stroke":null},"mark":{"type":"text","fontSize":12.7,"baseline":"middle"},
    "encoding":{"y":{"field":"i","type":"ordinal","scale":{"type":"point","domain":[0,1,2,3,4,5,6,7,8],"padding":0.5},"axis":null},"text":{"field":"t"},
     "color":{"field":"g","type":"nominal","legend":null,"scale":{"domain":["pos","neg"],"range":["#3d8bf0","#e07b26"]}}}},
   {"width":205,"height":84,"view":{"stroke":"#cccccc","strokeWidth":2,"fill":"white"},"layer":[
    {"data":{"name":"C"},"mark":{"type":"circle","size":36,"opacity":0.8,"color":"#1f77b4","clip":true},
     "encoding":{"x":{"field":"y","type":"quantitative","scale":{"domain":[-2.35,1.38],"nice":false,"zero":false},"axis":{"title":"Hidden dimension 4","values":[-2,-1,0,1],"format":"d","labelPadding":7,"titlePadding":7}},
      "y":{"field":"r","type":"quantitative","scale":{"domain":[-5.3,7.4],"nice":false,"zero":false},"axis":{"title":"True response","values":[-5,0,5],"titlePadding":6}}}},
    {"data":{"values":[{"y":-2.35,"r":6.25},{"y":1.38,"r":1.6}]},"mark":{"type":"line","color":"#1f77b4","strokeWidth":4,"clip":true},"encoding":{"x":{"field":"y","type":"quantitative"},"y":{"field":"r","type":"quantitative"}}},
    {"data":{"values":[{"t":"r = -0.31"}]},"mark":{"type":"text","align":"left","baseline":"middle","fontSize":15,"color":"#262626"},"encoding":{"x":{"datum":-2.24},"y":{"datum":-2.26},"text":{"field":"t"}}}
   ]}
  ]}
 ]}
 ]}
]}
]}
]}
]
}
